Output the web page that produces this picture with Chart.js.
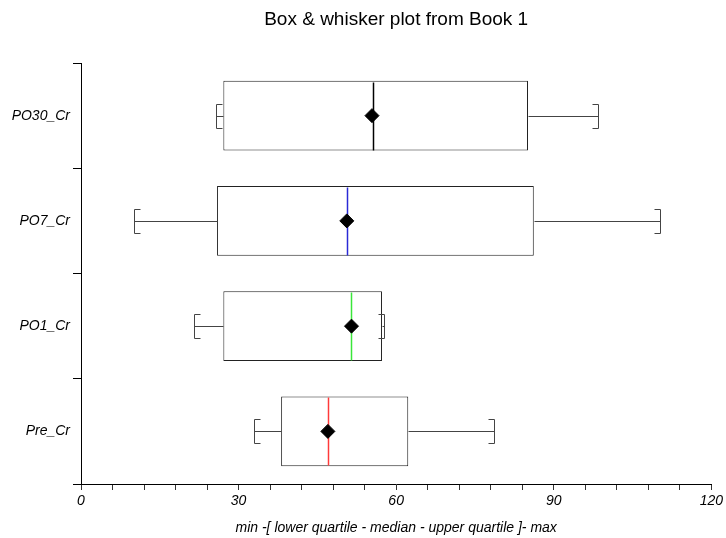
<!DOCTYPE html>
<html>
<head>
<meta charset="utf-8">
<script src="https://cdn.jsdelivr.net/npm/chart.js@4.4.1/dist/chart.umd.min.js"></script>
<style>
    html, body { margin: 0; padding: 0; background: #fff; }
    #wrap { width: 726px; height: 538px; }
</style>
</head>
<body>
<div id="wrap"><canvas id="boxChart" width="726" height="538"></canvas></div>
<script>
// ===== DATA =====
const categories = ['Pre_Cr', 'PO1_Cr', 'PO7_Cr', 'PO30_Cr'];
const minValues = [33.0, 21.6, 10.0, 25.7];
const q1Values = [38.1, 27.1, 25.9, 27.1];
const medianValues = [47.0, 51.4, 50.7, 55.5];
const q3Values = [62.3, 57.3, 86.2, 85.1];
const maxValues = [78.6, 57.7, 110.3, 98.5];
const meanValues = [47.0, 51.5, 50.6, 55.4];
const xTickValues = [0, 30, 60, 90, 120];
const chartTitle = 'Box & whisker plot from Book 1';

// ===== STYLE =====
const medianColors = ['#ff3a3a', '#3ae63a', '#2a2ad6', '#000000'];
const FONT = '"Liberation Sans", Arial, sans-serif';

// whiskers, caps and median lines, drawn right after the boxes
const whiskerPlugin = {
    id: 'whiskers',
    afterDatasetDraw(chart, args) {
        if (args.index !== 0) return;
        const ctx = chart.ctx;
        const xs = chart.scales.x;
        const px = v => Math.round(xs.getPixelForValue(v)) + 0.5;
        const capH = 12, stub = 6;

        ctx.save();
        ctx.lineWidth = 1;
        args.meta.data.forEach((bar, i) => {
            const yc = Math.round(bar.y) + 0.5;
            const half = bar.height / 2;
            const xMin = px(minValues[i]), xMax = px(maxValues[i]);

            ctx.strokeStyle = '#444';
            ctx.beginPath();
            ctx.moveTo(xMin, yc); ctx.lineTo(px(q1Values[i]), yc);
            ctx.moveTo(px(q3Values[i]), yc); ctx.lineTo(xMax, yc);
            // "[" at min
            ctx.moveTo(xMin + stub, yc - capH); ctx.lineTo(xMin, yc - capH);
            ctx.lineTo(xMin, yc + capH); ctx.lineTo(xMin + stub, yc + capH);
            // "]" at max
            ctx.moveTo(xMax - stub, yc - capH); ctx.lineTo(xMax, yc - capH);
            ctx.lineTo(xMax, yc + capH); ctx.lineTo(xMax - stub, yc + capH);
            ctx.stroke();

            ctx.strokeStyle = medianColors[i];
            ctx.lineWidth = 1.5;
            ctx.beginPath();
            ctx.moveTo(px(medianValues[i]), yc - half + 1);
            ctx.lineTo(px(medianValues[i]), yc + half - 1);
            ctx.stroke();
            ctx.lineWidth = 1;
        });
        ctx.restore();
    }
};

// title centred over the plot area, not the whole canvas
const plotTitlePlugin = {
    id: 'plotTitle',
    afterDraw(chart) {
        const { ctx, chartArea } = chart;
        ctx.save();
        ctx.fillStyle = '#000';
        ctx.font = `19px ${FONT}`;
        ctx.textAlign = 'center';
        ctx.textBaseline = 'middle';
        ctx.fillText(chartTitle, (chartArea.left + chartArea.right) / 2, 20);
        ctx.restore();
    }
};

new Chart(document.getElementById('boxChart'), {
    type: 'bar',
    data: {
        labels: categories,
        datasets: [
            {
                label: 'box',
                data: categories.map((_, i) => [q1Values[i], q3Values[i]]),
                backgroundColor: '#ffffff',
                borderColor: '#222222',
                borderWidth: 1,
                borderSkipped: false,
                categoryPercentage: 1,
                barPercentage: 0.665,
                order: 2
            },
            {
                type: 'scatter',
                label: 'mean',
                data: categories.map((c, i) => ({ x: meanValues[i], y: c })),
                pointStyle: 'rectRot',
                pointRadius: 7,
                backgroundColor: '#000',
                borderColor: '#000',
                borderWidth: 1,
                order: 1
            }
        ]
    },
    options: {
        indexAxis: 'y',
        responsive: false,
        animation: false,
        layout: { padding: { left: 0, right: 14, top: 63, bottom: 0 } },
        plugins: {
            legend: { display: false },
            tooltip: { enabled: false },
            title: { display: false }
        },
        scales: {
            x: {
                type: 'linear',
                min: 0,
                max: 120,
                afterFit: s => { s.height = 54; },
                border: { display: true, color: '#000', width: 1 },
                grid: { drawOnChartArea: false, drawTicks: true, tickLength: 6, color: '#333' },
                ticks: {
                    stepSize: 6,
                    autoSkip: false,
                    maxRotation: 0,
                    padding: 3,
                    color: '#000',
                    font: { family: FONT, size: 14, style: 'italic' },
                    callback: v => xTickValues.includes(v) ? String(v) : ''
                },
                title: {
                    display: true,
                    text: 'min -[ lower quartile - median - upper quartile ]- max',
                    color: '#000',
                    font: { family: FONT, size: 14, style: 'italic' },
                    padding: { top: 0, bottom: 1 }
                }
            },
            y: {
                type: 'category',
                reverse: true,
                afterFit: s => { s.width = 81; },
                border: { display: true, color: '#000', width: 1 },
                grid: { offset: true, drawOnChartArea: false, drawTicks: true, tickLength: 8, color: '#000' },
                ticks: {
                    padding: 3,
                    color: '#000',
                    font: { family: FONT, size: 14, style: 'italic' }
                }
            }
        }
    },
    plugins: [whiskerPlugin, plotTitlePlugin]
});
</script>
</body>
</html>
